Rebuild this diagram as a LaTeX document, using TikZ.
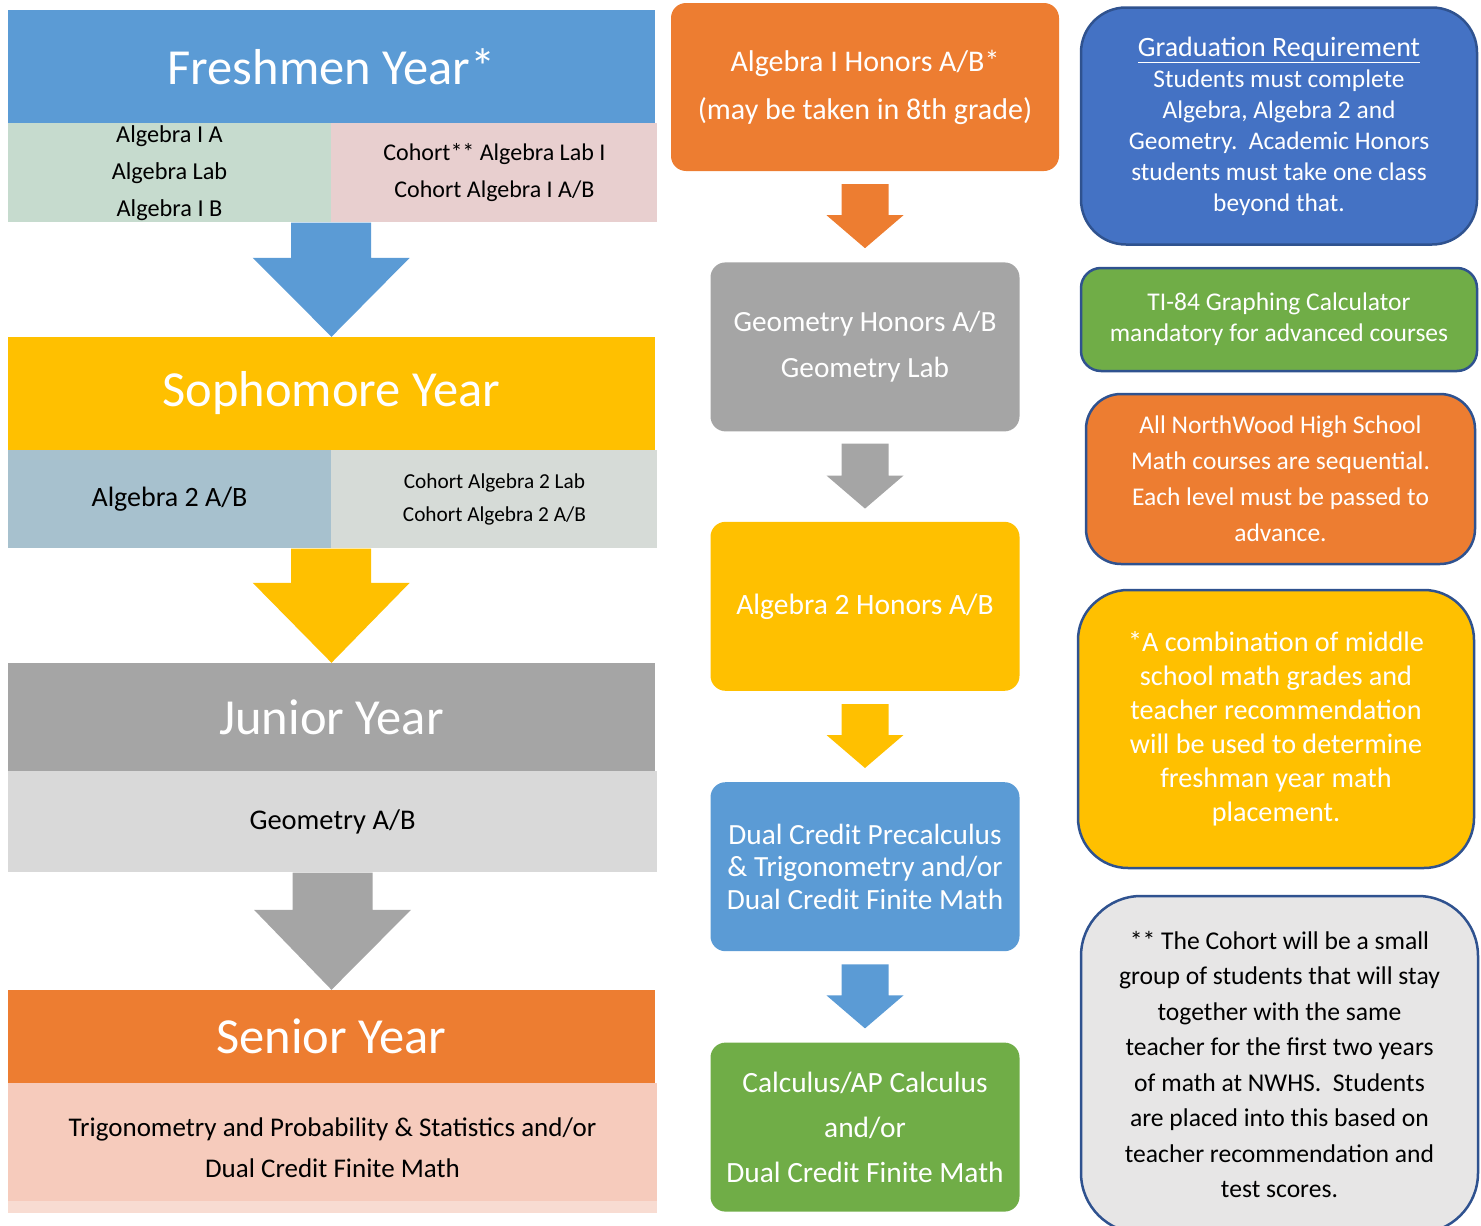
\documentclass[tikz,border=0pt]{standalone}
\usepackage{fontspec}
\setmainfont{Carlito}
\usetikzlibrary{positioning,calc}

\definecolor{hdblue}{HTML}{5B9BD5}
\definecolor{hdyellow}{HTML}{FFC000}
\definecolor{hdgray}{HTML}{A5A5A5}
\definecolor{hdorange}{HTML}{ED7D31}
\definecolor{hdgreen}{HTML}{70AD47}
\definecolor{notblue}{HTML}{4472C4}
\definecolor{notline}{HTML}{2F528F}
\definecolor{notgray}{HTML}{E7E6E6}
\definecolor{subgreen}{HTML}{C6DBCE}
\definecolor{subpink}{HTML}{E8CFCF}
\definecolor{substeel}{HTML}{A7C1CE}
\definecolor{subsilver}{HTML}{D6DBD7}
\definecolor{sublight}{HTML}{D9D9D9}
\definecolor{subpeach}{HTML}{F6CBBC}
\definecolor{subpeachlt}{HTML}{F8DCD2}

\newcommand{\fsz}[2]{\fontsize{#1}{#2}\selectfont}
% block arrow: colour, start, tip, half shaft, half head, head length
\newcommand{\blockarrow}[6]{%
  \fill[#1] let \p1=(#2), \p2=(#3) in
    (\x1-#4,\y1) -- (\x1+#4,\y1) -- (\x1+#4,\y2+#6) -- (\x1+#5,\y2+#6)
    -- (\x2,\y2) -- (\x1-#5,\y2+#6) -- (\x1-#4,\y2+#6) -- cycle;}

\tikzset{
  yearhead/.style={fill=#1, text=white, minimum width=647pt, inner sep=0pt, font=\fsz{50.5}{60}},
  subrow/.style={fill=#1, text=black, inner sep=0pt, align=center, anchor=north west},
  course/.style={fill=#1, text=white, rounded corners=15pt, minimum width=309pt,
    minimum height=169pt, inner sep=0pt, align=center},
  note/.style={fill=#1, draw=notline, line width=2.5pt, text=white, inner sep=0pt, align=center},
}

\begin{document}
\begin{tikzpicture}[x=1pt,y=-1pt]
  \useasboundingbox (0,0) rectangle (1481,1226);

  % Years

  \node[yearhead=hdblue, minimum height=113pt] (fresh) at (331.5,66.5) {Freshmen Year*};
  \node[subrow=subgreen, minimum width=323pt, minimum height=99pt, font=\fsz{24.3}{37}] (fresh_l) at (fresh.south west) {Algebra I A\\Algebra Lab\\Algebra I B};
  \node[subrow=subpink, minimum width=326pt, minimum height=99pt, font=\fsz{24}{37}] (fresh_r) at (fresh_l.north east) {Cohort** Algebra Lab I\\Cohort Algebra I A/B};

  \node[yearhead=hdyellow, minimum height=113pt] (soph) at (331.5,393.5) {Sophomore Year};
  \node[subrow=substeel, minimum width=323pt, minimum height=98pt, font=\fsz{28}{33}] (soph_l) at (soph.south west) {Algebra 2 A/B};
  \node[subrow=subsilver, minimum width=326pt, minimum height=98pt, font=\fsz{21.3}{33}] (soph_r) at (soph_l.north east) {Cohort Algebra 2 Lab\\Cohort Algebra 2 A/B};

  \node[yearhead=hdgray, minimum height=108pt] (junior) at (331.5,717) {Junior Year};
  \node[subrow=sublight, minimum width=649pt, minimum height=101pt, font=\fsz{28.5}{33}] (junior_l) at (junior.south west) {Geometry A/B};

  \node[yearhead=hdorange, minimum height=93pt] (senior) at (331.5,1036.5) {Senior Year};
  \node[subrow=subpeach, minimum width=649pt, minimum height=129pt, font=\fsz{27}{41}] (senior_l) at (senior.south west) {Trigonometry and Probability \& Statistics and/or\\Dual Credit Finite Math};
  \fill[subpeachlt] (senior_l.south west) rectangle ($(senior_l.south east)+(0,-12)$);

  % Honors track

  \node[course=hdorange, minimum width=388pt, minimum height=168pt, font=\fsz{30}{48}] (alg_hon) at (865,87) {Algebra I Honors A/B*\\(may be taken in 8th grade)};
  \node[course=hdgray, below=91pt of alg_hon, font=\fsz{29.3}{46}] (geo_hon) {Geometry Honors A/B\\Geometry Lab};
  \node[course=hdyellow, below=90pt of geo_hon, font=\fsz{29.5}{46}] (alg2_hon) {Algebra 2 Honors A/B};
  \node[course=hdblue, below=91pt of alg2_hon, font=\fsz{29.3}{32.5}] (precalc) {Dual Credit Precalculus\\\& Trigonometry and/or\\Dual Credit Finite Math};
  \node[course=hdgreen, below=91pt of precalc, font=\fsz{29.4}{45}] (calc) {Calculus/AP Calculus\\and/or\\Dual Credit Finite Math};

  % Notes

  \node[note=notblue, minimum width=396pt, minimum height=237pt, rounded corners=45pt, font=\fsz{25.4}{31}] (grad) at (1279,126) {{\fsz{28}{31}\underline{Graduation Requirement}}\\Students must complete\\Algebra, Algebra 2 and\\Geometry.\ \ Academic Honors\\students must take one class\\beyond that.};
  \node[note=hdgreen, minimum width=396pt, minimum height=103pt, rounded corners=20pt, font=\fsz{25.5}{31}] (ti84) at (1279,319.5) {TI-84 Graphing Calculator\\mandatory for advanced courses};
  \node[note=hdorange, minimum width=389pt, minimum height=170pt, rounded corners=35pt, font=\fsz{25.5}{36}] (seq) at (1280.5,479) {All NorthWood High School\\Math courses are sequential.\\Each level must be passed to\\advance.};
  \node[note=hdyellow, minimum width=396pt, minimum height=278pt, rounded corners=50pt, font=\fsz{28.2}{34}] (place) at (1276,729) {*A combination of middle\\school math grades and\\teacher recommendation\\will be used to determine\\freshman year math\\placement.};
  \node[note=notgray, text=black, minimum width=397pt, minimum height=337pt, rounded corners=60pt, font=\fsz{25.6}{35.5}] (cohort) at (1279.5,1064.5) {** The Cohort will be a small\\group of students that will stay\\together with the same\\teacher for the first two years\\of math at NWHS.\ \ Students\\are placed into this based on\\teacher recommendation and\\test scores.};

  % Arrows

  \blockarrow{hdblue}{fresh_l.south east}{soph.north}{40pt}{78.5pt}{79pt}
  \blockarrow{hdyellow}{soph_l.south east}{junior.north}{40pt}{78.5pt}{80pt}
  \blockarrow{hdgray}{junior_l.south}{senior.north}{40pt}{78.5pt}{80pt}

  \blockarrow{hdorange}{$(alg_hon.south)+(0,13)$}{$(geo_hon.north)+(0,-14)$}{23.5pt}{38.5pt}{33pt}
  \blockarrow{hdgray}{$(geo_hon.south)+(0,12)$}{$(alg2_hon.north)+(0,-13)$}{23.5pt}{38.5pt}{33pt}
  \blockarrow{hdyellow}{$(alg2_hon.south)+(0,13)$}{$(precalc.north)+(0,-14)$}{23.5pt}{38.5pt}{33pt}
  \blockarrow{hdblue}{$(precalc.south)+(0,13)$}{$(calc.north)+(0,-14)$}{23.5pt}{38.5pt}{33pt}

\end{tikzpicture}
\end{document}
